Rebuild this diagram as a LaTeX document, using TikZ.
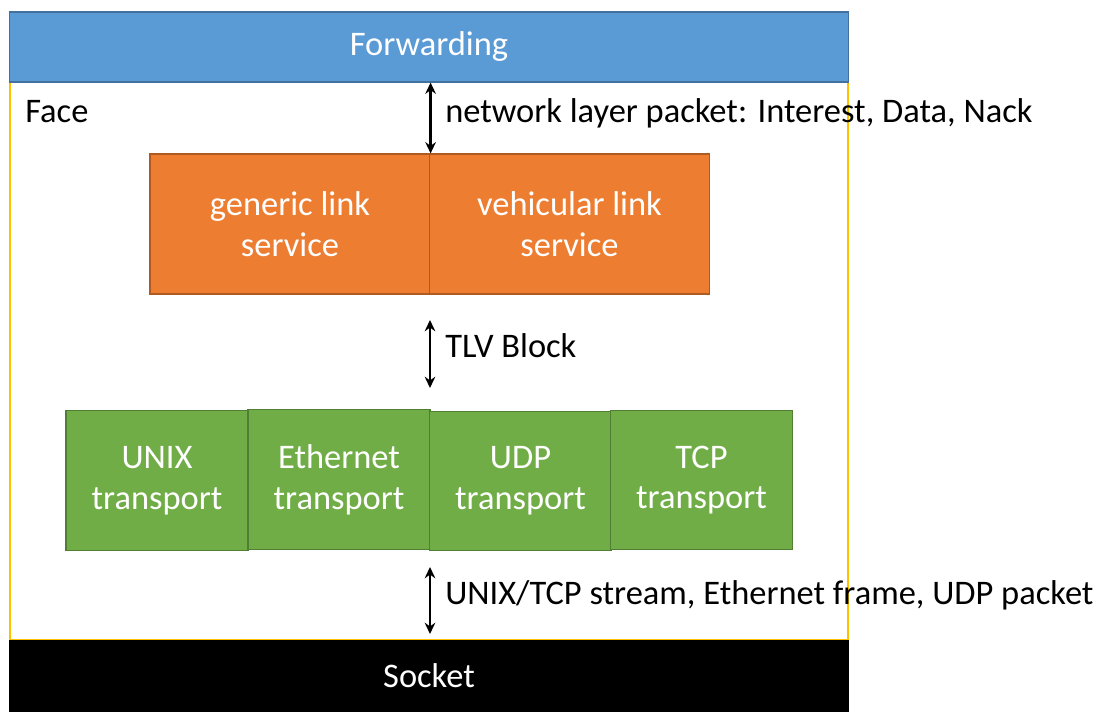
\documentclass[tikz,border=0pt]{standalone}
\usepackage{fontspec}
\setmainfont{Carlito}
\usetikzlibrary{arrows.meta, positioning, calc}
\definecolor{fwdblue}{HTML}{5B9BD5}
\definecolor{fwdedge}{HTML}{41719C}
\definecolor{faceyellow}{HTML}{FFC000}
\definecolor{linkorange}{HTML}{ED7D31}
\definecolor{linkedge}{HTML}{AE5A21}
\definecolor{transgreen}{HTML}{70AD47}
\definecolor{transedge}{HTML}{507E32}

\begin{document}
\begin{tikzpicture}[x=0.025cm, y=-0.025cm,
  bar/.style={rectangle, minimum width=20.95cm, minimum height=1.75cm, inner sep=0pt, font=\fontsize{24.5}{29}\selectfont, text=white, line width=0.8pt},
  linkbox/.style={rectangle, draw=linkedge, fill=linkorange, minimum width=7cm, minimum height=3.5cm, font=\fontsize{24.5}{29}\selectfont, text=white, align=center, line width=0.8pt},
  transbox/.style={rectangle, draw=transedge, fill=transgreen, minimum width=4.55cm, minimum height=3.48cm, font=\fontsize{24.5}{29}\selectfont, text=white, align=center, line width=0.8pt},
  lbl/.style={anchor=west, font=\fontsize{24.5}{29}\selectfont, inner sep=0pt},
  arrow/.style={{Stealth[length=8pt,width=7.5pt]}-{Stealth[length=8pt,width=7.5pt]}, line width=1.6pt}
]
  \useasboundingbox (0,0) rectangle (1112,727);

  \node[rectangle, draw=faceyellow, line width=1pt, minimum width=20.95cm, minimum height=13.95cm, inner sep=0pt] (face) at (429,361) {};
  \node[bar, draw=fwdedge, fill=fwdblue] (fwd) at (429,47) {Forwarding};
  \node[bar, draw=black, fill=black] (sock) at (429,676) {Socket};
  \node[lbl] (facelbl) at (25,112) {Face};

  \node[linkbox] (gen) at (290,224) {generic link\\service};
  \node[linkbox] (veh) at (569.5,224) {vehicular link\\service};

  \node[transbox] (unix) at (157,480.5) {UNIX\\transport};
  \node[transbox] (eth) at (339,479.5) {Ethernet\\transport};
  \node[transbox] (udp) at (520.5,481) {UDP\\transport};
  \node[transbox] (tcp) at (701.5,480) {TCP\\transport};

  \coordinate (tlvtop) at (430,320);
  \coordinate (tlvbot) at (430,388);
  \coordinate (socktop) at (430,567);
  \coordinate (sockbot) at (430,634);

  \draw[arrow] (gen.north east |- fwd.south) -- (gen.north east);
  \draw[arrow] (tlvtop) -- (tlvbot);
  \draw[arrow] (socktop) -- (sockbot);

  \node[lbl] (netlbl) at (445,113) {network layer packet: Interest, Data, Nack};
  \node[lbl] (tlvlbl) at (445,346) {TLV Block};
  \node[lbl] (sockl) at (445,595) {UNIX/TCP stream, Ethernet frame, UDP packet};
\end{tikzpicture}
\end{document}
